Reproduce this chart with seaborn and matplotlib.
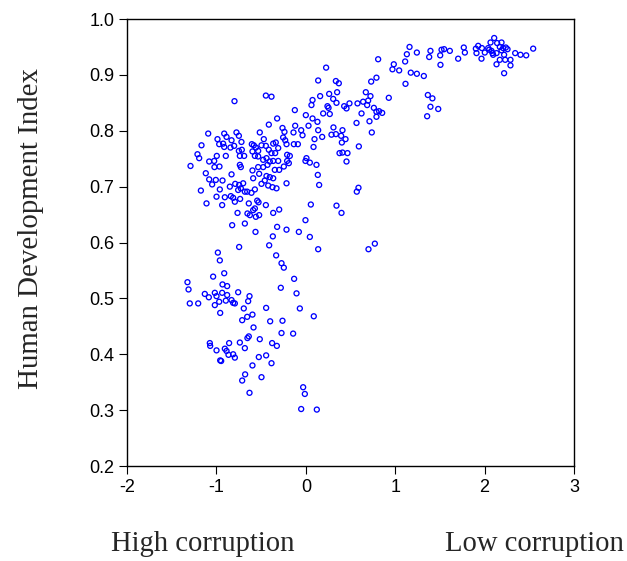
import numpy as np
import pandas as pd
import seaborn as sns
import matplotlib
matplotlib.use("Agg")
import matplotlib.pyplot as plt

# control of corruption score (x) vs human development index (y)
# top right group
corr_right = [1.518, 1.547, 1.503, 1.611, 1.506, 1.704, 1.767, 1.779, 1.902, 1.928,
              1.909, 1.969, 1.965, 2.002, 2.040, 2.066, 2.107, 2.077, 2.095, 2.133,
              2.140, 2.189, 2.170, 2.207, 2.237, 2.256, 2.189, 2.218, 2.170, 2.133,
              2.230, 2.289, 2.289, 2.218, 2.342, 2.401, 2.465, 2.543, 2.051, 2.088,
              1.394, 1.380, 1.365, 1.416, 1.394, 1.481, 1.357]
hdi_right = [0.945, 0.946, 0.935, 0.943, 0.918, 0.929, 0.949, 0.940, 0.947, 0.952,
             0.939, 0.948, 0.929, 0.940, 0.948, 0.958, 0.966, 0.943, 0.936, 0.939,
             0.957, 0.958, 0.950, 0.948, 0.949, 0.946, 0.944, 0.936, 0.927, 0.919,
             0.927, 0.927, 0.917, 0.903, 0.939, 0.936, 0.935, 0.947, 0.945, 0.939,
             0.943, 0.932, 0.864, 0.858, 0.843, 0.839, 0.826]

# middle, upper part
corr_mid_up = [1.160, 1.130, 1.242, 1.111, 0.984, 0.969, 1.044, 1.174, 1.242, 1.320,
               1.115, 0.809, 0.227, 0.138, 0.336, 0.369, 0.731, 0.790, 0.671, 0.723,
               0.261, 0.350, 0.160, 0.075, 0.063, 0.306, 0.343, 0.242, 0.254, 0.268,
               0.194, 0.429, 0.455, 0.488, 0.578, 0.641, 0.697, 0.686, 0.623, 0.761,
               0.790, 0.820, 0.854, 0.790, 0.928, 0.712, 0.567, 0.738, -0.123, 0.000,
               0.075, 0.130, 0.030, -0.119, -0.052, -0.261, -0.239, -0.138, -0.037, -0.254,
               -0.231, -0.216, -0.134, -0.089, 0.138, 0.097, 0.183, 0.309, 0.410, 0.287,
               0.336, 0.395, 0.444, 0.403, 0.086, 0.377, 0.410, 0.466, 0.455, 0.593,
               -0.209, -0.179, 0.007, -0.004, 0.045, 0.119, -0.209, -0.190, -0.246, -0.216,
               0.134, 0.149, 0.570, 0.589, 0.056, 0.343, 0.399, -0.004]
hdi_mid_up = [0.950, 0.937, 0.940, 0.924, 0.919, 0.910, 0.908, 0.904, 0.902, 0.898,
              0.884, 0.928, 0.913, 0.890, 0.889, 0.885, 0.888, 0.895, 0.869, 0.862,
              0.866, 0.869, 0.862, 0.855, 0.846, 0.857, 0.850, 0.844, 0.841, 0.830,
              0.831, 0.844, 0.840, 0.849, 0.849, 0.852, 0.854, 0.846, 0.831, 0.841,
              0.834, 0.835, 0.832, 0.825, 0.859, 0.817, 0.814, 0.797, 0.837, 0.828,
              0.822, 0.816, 0.809, 0.809, 0.801, 0.805, 0.798, 0.797, 0.792, 0.788,
              0.783, 0.776, 0.776, 0.776, 0.801, 0.785, 0.789, 0.806, 0.801, 0.793,
              0.794, 0.791, 0.785, 0.779, 0.771, 0.760, 0.761, 0.760, 0.745, 0.772,
              0.757, 0.755, 0.751, 0.746, 0.743, 0.739, 0.746, 0.742, 0.736, 0.706,
              0.721, 0.703, 0.691, 0.698, 0.668, 0.666, 0.653, 0.640]

# middle, lower part
corr_mid_low = [-0.216, -0.078, 0.045, 0.138, 0.701, 0.772, -0.272, -0.246, -0.131, -0.280,
                -0.104, -0.067, 0.089, -0.261, -0.272, -0.142, -0.030, -0.011, -0.052, 0.123]
hdi_mid_low = [0.623, 0.619, 0.610, 0.588, 0.588, 0.598, 0.563, 0.555, 0.535, 0.519,
               0.509, 0.482, 0.468, 0.460, 0.438, 0.437, 0.341, 0.329, 0.302, 0.301]

# left, lower part
corr_left_low = [-0.824, -0.563, -0.321, -0.369, -0.410, -0.746, -0.984, -0.962, -0.332, -0.913,
                 -1.037, -1.324, -1.312, -0.932, -0.880, -1.130, -1.085, -1.018, -0.999, -0.936,
                 -0.880, -0.969, -1.018, -1.298, -1.204, -0.895, -0.831, -0.813, -0.794, -0.757,
                 -0.630, -0.645, -0.958, -0.694, -0.597, -0.656, -0.712, -0.444, -0.399, -0.585,
                 -0.515, -0.653, -0.638, -0.682, -0.738, -0.377, -0.324, -1.074, -1.070, -0.999,
                 -0.906, -0.887, -0.858, -0.865, -0.813, -0.794, -0.958, -0.947, -0.526, -0.444,
                 -0.384, -0.597, -0.496, -0.679, -0.712, -0.630]
hdi_left_low = [0.631, 0.619, 0.628, 0.611, 0.595, 0.592, 0.582, 0.568, 0.577, 0.545,
                0.539, 0.529, 0.516, 0.525, 0.522, 0.508, 0.502, 0.510, 0.504, 0.510,
                0.506, 0.494, 0.488, 0.491, 0.491, 0.496, 0.497, 0.492, 0.491, 0.511,
                0.504, 0.495, 0.474, 0.482, 0.471, 0.467, 0.461, 0.483, 0.459, 0.448,
                0.427, 0.429, 0.432, 0.411, 0.421, 0.420, 0.415, 0.420, 0.415, 0.407,
                0.410, 0.406, 0.420, 0.399, 0.400, 0.394, 0.389, 0.388, 0.395, 0.398,
                0.384, 0.380, 0.359, 0.364, 0.353, 0.331]

# left, upper part
corr_left_up = [-0.447, -0.384, -0.798, -0.321, -0.414, -1.092, -0.913, -0.988, -0.887, -0.925,
                -0.969, -0.913, -0.776, -0.749, -0.720, -0.831, -0.802, -0.716, -0.749, -0.515,
                -0.470, -1.167, -1.212, -1.193, -1.290, -1.081, -1.025, -0.996, -1.022, -0.966,
                -0.895, -0.843, -0.738, -0.690, -0.738, -0.604, -0.582, -0.559, -0.533, -0.496,
                -0.447, -0.414, -0.365, -0.336, -0.309, -0.384, -0.343, -0.597, -0.570, -0.533,
                -0.477, -0.440, -0.403, -0.365, -0.309, -0.429, -0.477, -0.533, -0.597, -0.347,
                -0.298, -0.522, -0.589, -0.440, -0.403, -0.365, -0.459, -0.496, -0.421, -0.373,
                -0.328, -1.119, -1.081, -1.048, -1.007, -0.962, -0.932, -0.831, -0.850, -0.790,
                -0.746, -0.727, -0.701, -0.757, -0.682, -1.174, -0.999, -0.906, -0.839, -0.813,
                -0.794, -0.735, -0.656, -0.608, -0.570, -1.111, -0.936, -0.638, -0.544, -0.529,
                -0.447, -0.589, -0.570, -0.626, -0.653, -0.559, -0.522, -0.764, -0.682, -0.365,
                -0.298, -0.727]
hdi_left_up = [0.863, 0.861, 0.853, 0.822, 0.811, 0.795, 0.795, 0.785, 0.789, 0.777,
               0.776, 0.771, 0.797, 0.791, 0.780, 0.783, 0.773, 0.766, 0.764, 0.797,
               0.785, 0.774, 0.758, 0.751, 0.737, 0.745, 0.746, 0.755, 0.735, 0.736,
               0.755, 0.770, 0.755, 0.755, 0.739, 0.776, 0.774, 0.770, 0.764, 0.774,
               0.773, 0.766, 0.777, 0.779, 0.769, 0.760, 0.760, 0.763, 0.755, 0.754,
               0.748, 0.751, 0.745, 0.746, 0.746, 0.739, 0.735, 0.735, 0.729, 0.730,
               0.730, 0.723, 0.715, 0.719, 0.717, 0.715, 0.711, 0.705, 0.702, 0.699,
               0.697, 0.724, 0.713, 0.704, 0.712, 0.695, 0.711, 0.722, 0.700, 0.705,
               0.703, 0.697, 0.706, 0.694, 0.691, 0.693, 0.682, 0.681, 0.683, 0.680,
               0.673, 0.678, 0.691, 0.689, 0.695, 0.670, 0.667, 0.670, 0.675, 0.672,
               0.667, 0.658, 0.661, 0.649, 0.652, 0.646, 0.649, 0.653, 0.634, 0.653,
               0.659, 0.735]

x_ticks = [-2, -1, 0, 1, 2, 3]
y_ticks = [0.2, 0.3, 0.4, 0.5, 0.6, 0.7, 0.8, 0.9, 1.0]
y_tick_labels = ["0.2", "0.3", "0.4", "0.5", "0.6", "0.7", "0.8", "0.9", "1.0"]

df = pd.DataFrame({
    "corruption": corr_right + corr_mid_up + corr_mid_low + corr_left_low + corr_left_up,
    "hdi": hdi_right + hdi_mid_up + hdi_mid_low + hdi_left_low + hdi_left_up,
})

sns.set_style("ticks")
plt.rcParams["font.family"] = ["Liberation Sans", "DejaVu Sans"]

fig = plt.figure(figsize=(6.27, 5.61), dpi=100)
ax = fig.add_axes([0.2026, 0.1693, 0.7129, 0.7968])

sns.scatterplot(data=df, x="corruption", y="hdi", ax=ax, marker="o", s=13,
                facecolor="none", edgecolor="#0000ff", linewidth=0.95)

ax.set_xlim(-2, 3)
ax.set_ylim(0.2, 1.0)
ax.set_xticks(x_ticks)
ax.set_xticklabels([str(t) for t in x_ticks])
ax.set_yticks(y_ticks)
ax.set_yticklabels(y_tick_labels)
ax.tick_params(direction="out", length=6, width=0.8, labelsize=13, pad=3,
               colors="black", top=False, right=False)
for sp in ax.spines.values():
    sp.set_color("black")
    sp.set_linewidth(1.0)

ax.set_xlabel("")
ax.set_ylabel("Human Development Index", fontfamily="Liberation Serif", fontsize=20.8)
ax.yaxis.set_label_coords(-0.215, 0.531)
ax.yaxis.label.set_va("center")

fig.text(203 / 627, 1 - 551 / 561, "High corruption", ha="center", va="baseline",
         fontfamily="Liberation Serif", fontsize=20.6)
fig.text(534 / 627, 1 - 551 / 561, "Low corruption", ha="center", va="baseline",
         fontfamily="Liberation Serif", fontsize=20.6)

fig.savefig("out.png", dpi=100)
